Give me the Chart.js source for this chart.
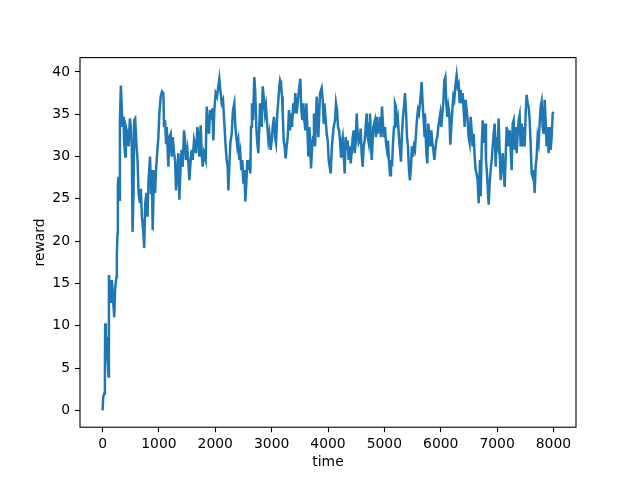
<!DOCTYPE html>
<html>
<head>
<meta charset="utf-8">
<script src="https://cdn.jsdelivr.net/npm/chart.js@4.4.0/dist/chart.umd.min.js"></script>
<style>
  body { margin: 0; background: #fff; }
  #wrap { width: 640px; height: 480px; }
</style>
</head>
<body>
<div id="wrap"><canvas id="chart" width="640" height="480"></canvas></div>
<script>
// values, one row per stretch of the x axis
const time = [
    0, 12, 30, 42, 47, 59, 71, 89, 107, 113, 130, 148, 166, 189, 207, 225, 248, 254, 266, 272, 284, 296, 308, 325, 343, 355, 373, 384, 402, 414, 443, 461, 485, 503, 520, 532, 550, 562, 579, 603, 621, 639, 662, 680, 698, 721, 739, 757, 780, 798, 816,
    843, 861, 873, 890, 902, 914, 932, 949, 973, 991, 1008, 1032, 1056, 1079, 1091, 1109, 1127, 1139, 1168, 1186, 1209, 1227, 1245, 1269, 1286, 1304, 1328, 1345, 1363, 1387, 1404, 1422, 1446, 1464, 1481, 1505, 1523, 1540, 1564, 1582, 1599, 1623, 1641, 1659, 1682, 1700, 1718, 1741, 1759, 1777, 1800,
    1830, 1848, 1865, 1889, 1907, 1924, 1948, 1966, 1983, 2007, 2031, 2054, 2072, 2090, 2114, 2137, 2161, 2184, 2202, 2220, 2232, 2249, 2267, 2291, 2314, 2338, 2356, 2374, 2391, 2409, 2427, 2444, 2462, 2480, 2498, 2515, 2533, 2551, 2569, 2586, 2604, 2622, 2634, 2651, 2669, 2693, 2710, 2728, 2746, 2764, 2781,
    2794, 2824, 2841, 2865, 2883, 2900, 2924, 2942, 2959, 2983, 3001, 3019, 3042, 3060, 3078, 3101, 3119, 3137, 3149, 3166, 3184, 3196, 3214, 3231, 3249, 3267, 3285, 3308, 3326, 3344, 3361, 3385, 3403, 3420, 3444, 3462, 3485, 3509, 3527, 3545, 3562, 3580, 3598, 3616, 3633, 3651, 3669, 3681, 3698, 3716, 3734, 3751,
    3770, 3800, 3829, 3859, 3888, 3906, 3924, 3935, 3959, 3977, 3995, 4012, 4030, 4048, 4066, 4083, 4101, 4125, 4142, 4160, 4178, 4196, 4213, 4231, 4243, 4261, 4278, 4296, 4314, 4331, 4349, 4367, 4385, 4402, 4420, 4438, 4456, 4473, 4491, 4509, 4526, 4544, 4562, 4580, 4597, 4615, 4633, 4651, 4668, 4686, 4704, 4722, 4739,
    4745, 4775, 4804, 4834, 4851, 4869, 4887, 4905, 4922, 4940, 4958, 4975, 4993, 5011, 5029, 5046, 5064, 5082, 5100, 5117, 5135, 5153, 5171, 5188, 5206, 5224, 5241, 5259, 5277, 5295, 5312, 5330, 5348, 5366, 5383, 5401, 5419, 5437, 5454, 5472, 5490, 5507, 5525, 5543, 5561, 5578, 5596, 5614, 5632, 5649, 5661, 5679, 5697, 5714,
    5721, 5745, 5762, 5780, 5798, 5816, 5833, 5851, 5869, 5887, 5904, 5922, 5940, 5957, 5975, 5993, 6011, 6028, 6046, 6064, 6082, 6099, 6117, 6135, 6152, 6170, 6188, 6206, 6223, 6241, 6259, 6282, 6300, 6318, 6336, 6353, 6371, 6389, 6407, 6424, 6442, 6460, 6477, 6495, 6513, 6531, 6548, 6566, 6584, 6602, 6619, 6637, 6655, 6673, 6690,
    6697, 6709, 6727, 6744, 6768, 6786, 6803, 6821, 6839, 6851, 6868, 6886, 6904, 6922, 6939, 6957, 6975, 6993, 7010, 7028, 7046, 7063, 7081, 7099, 7117, 7134, 7152, 7170, 7188, 7205, 7223, 7241, 7258, 7276, 7294, 7312, 7329, 7347, 7365, 7383, 7400, 7418, 7436, 7454, 7471, 7489, 7507, 7524, 7542, 7560, 7578, 7595, 7613, 7631, 7649, 7666, 7684, 7702, 7719, 7737, 7755, 7773, 7790, 7808, 7826, 7844, 7861, 7879, 7897, 7915, 7933, 7950, 7968, 7986, 8003
];
const reward = [
    0, 1.6, 2.0, 4.8, 10.3, 7.5, 8.7, 6.0, 4.0, 16.0, 14.6, 12.7, 15.4, 13.0, 11.0, 14.6, 15.8, 18.6, 20.9, 26.8, 27.6, 24.9, 34.3, 38.4, 35.5, 33.5, 34.7, 31.6, 30.0, 33.5, 32.7, 31.2, 34.5, 33.5, 30.8, 21.1, 25.7, 34.3, 34.5, 31.2, 29.6, 25.7, 24.5, 26.2, 22.9, 21.3, 19.2, 24.5, 25.7, 22.9, 27.2,
    30.0, 25.7, 28.4, 21.3, 24.9, 28.4, 25.7, 28.4, 30.8, 32.3, 35.1, 37.1, 37.7, 37.5, 33.5, 34.3, 31.6, 33.5, 28.8, 32.3, 32.7, 30.0, 32.3, 30.4, 29.6, 26.0, 28.4, 30.4, 24.9, 29.2, 30.8, 28.8, 33.1, 31.9, 29.6, 30.8, 29.2, 27.2, 29.6, 30.8, 29.6, 31.9, 31.2, 30.4, 33.5, 32.3, 30.0, 33.7, 30.4, 28.8, 30.4,
    29.6, 35.9, 33.9, 32.7, 35.5, 34.3, 35.7, 31.9, 35.5, 37.5, 37.1, 38.3, 39.2, 37.9, 36.3, 36.7, 33.9, 31.2, 29.6, 28.8, 26.0, 28.8, 31.6, 32.7, 35.5, 36.3, 33.5, 32.3, 31.2, 31.9, 29.6, 30.4, 28.4, 29.6, 26.8, 28.4, 24.7, 26.8, 29.6, 28.4, 29.6, 28.0, 33.5, 36.3, 34.3, 39.4, 37.5, 33.5, 31.6, 30.4, 33.5,
    36.3, 33.5, 38.3, 36.7, 35.1, 35.9, 33.5, 31.9, 32.7, 30.8, 31.9, 33.5, 34.7, 32.3, 31.6, 35.1, 36.7, 38.3, 39.0, 38.6, 37.1, 35.1, 31.9, 31.2, 29.8, 31.2, 32.3, 35.5, 33.1, 35.1, 33.5, 36.3, 35.1, 37.5, 35.1, 36.3, 37.9, 39.2, 35.5, 34.3, 36.3, 34.3, 33.1, 36.3, 33.5, 30.0, 33.5, 31.9, 28.6, 30.8, 32.3, 35.1,
    31.2, 37.1, 32.3, 37.5, 38.1, 36.7, 33.9, 36.3, 34.3, 32.7, 31.9, 29.6, 28.8, 28.0, 30.8, 32.3, 33.5, 34.3, 36.3, 35.5, 33.5, 33.1, 31.9, 30.0, 31.6, 32.3, 30.4, 28.0, 32.3, 30.8, 31.9, 29.6, 31.2, 29.2, 30.4, 32.3, 33.1, 30.4, 31.6, 35.1, 32.7, 31.6, 31.9, 33.3, 30.4, 28.8, 31.2, 31.9, 33.5, 35.1, 32.3, 31.6, 33.9,
    35.1, 29.6, 33.5, 34.3, 32.3, 34.7, 32.7, 33.9, 34.7, 32.3, 35.9, 33.9, 32.3, 33.5, 31.6, 30.8, 31.9, 29.6, 27.8, 29.6, 28.8, 31.6, 33.5, 36.3, 35.9, 33.5, 34.3, 32.3, 30.8, 29.4, 32.7, 34.7, 35.9, 37.5, 35.5, 32.3, 31.2, 28.4, 27.2, 28.8, 31.2, 30.0, 31.2, 30.8, 32.7, 34.3, 35.5, 35.1, 36.3, 37.5, 38.8, 36.3, 34.3, 32.3,
    35.1, 30.4, 29.2, 33.9, 32.3, 31.2, 33.1, 31.6, 30.8, 29.6, 30.8, 31.9, 32.3, 33.5, 34.3, 35.1, 33.5, 35.1, 36.3, 39.0, 39.4, 36.3, 34.7, 35.9, 35.1, 31.4, 33.5, 35.5, 37.1, 36.7, 38.3, 39.6, 38.3, 38.6, 36.3, 37.9, 36.3, 37.5, 35.5, 33.5, 36.7, 35.5, 34.3, 32.3, 31.6, 34.7, 33.1, 31.2, 32.7, 30.0, 28.4, 28.0, 27.2, 24.5, 28.0,
    29.6, 25.3, 31.2, 34.3, 31.6, 33.9, 29.6, 28.0, 25.7, 24.3, 26.8, 28.4, 29.6, 31.2, 32.7, 33.9, 28.8, 32.3, 31.6, 34.5, 30.4, 27.2, 28.8, 30.4, 28.4, 26.4, 30.0, 33.5, 32.7, 31.2, 33.1, 30.8, 28.4, 33.9, 34.3, 30.8, 33.5, 30.4, 32.7, 34.3, 34.9, 31.2, 33.9, 31.2, 33.5, 31.2, 35.1, 37.3, 36.3, 35.9, 34.3, 31.6, 28.0, 27.6, 28.4, 25.7, 28.8, 30.0, 32.3, 31.6, 33.9, 35.9, 36.5, 33.5, 32.7, 36.7, 34.3, 31.2, 33.5, 30.4, 33.5, 30.8, 32.3, 35.1, 35.3
];
const xTicks = [0, 1000, 2000, 3000, 4000, 5000, 6000, 7000, 8000];
const yTicks = [0, 5, 10, 15, 20, 25, 30, 35, 40];

if (time.length !== reward.length) console.warn('length mismatch', time.length, reward.length);

const tickFont = { family: "'DejaVu Sans', sans-serif", size: 13.9 };

// matplotlib style closed frame round the plot area
const framePlugin = {
    id: 'frame',
    afterDraw(chart) {
        const a = chart.chartArea;
        const ctx = chart.ctx;
        ctx.save();
        ctx.strokeStyle = '#000';
        ctx.lineWidth = 1.1;
        ctx.strokeRect(a.left, a.top, a.right - a.left, a.bottom - a.top);
        ctx.restore();
    }
};

new Chart(document.getElementById('chart'), {
    type: 'line',
    data: {
        datasets: [{
            data: time.map((t, i) => ({ x: t, y: reward[i] })),
            borderColor: '#1f77b4',
            borderWidth: 2.5,
            pointRadius: 0,
            tension: 0,
            fill: false
        }]
    },
    options: {
        responsive: false,
        animation: false,
        layout: { padding: { top: 57.6, right: 64, left: 0, bottom: 0 } },
        plugins: { legend: { display: false }, tooltip: { enabled: false } },
        scales: {
            x: {
                type: 'linear',
                min: -400,
                max: 8400,
                afterBuildTicks: s => { s.ticks = xTicks.map(v => ({ value: v })); },
                afterFit: s => { s.height = 52.8; },
                border: { display: false },
                grid: { drawOnChartArea: false, tickLength: 5, tickColor: '#000', tickWidth: 1.1 },
                ticks: { color: '#000', font: tickFont, padding: 4, maxRotation: 0, callback: v => String(v) },
                title: { display: true, text: 'time', color: '#000', font: tickFont, padding: { top: 0, bottom: 9.7 } }
            },
            y: {
                min: -1.99,
                max: 41.7,
                afterBuildTicks: s => { s.ticks = yTicks.map(v => ({ value: v })); },
                afterFit: s => { s.width = 80; },
                border: { display: false },
                grid: { drawOnChartArea: false, tickLength: 5, tickColor: '#000', tickWidth: 1.1 },
                ticks: { color: '#000', font: tickFont, padding: 5, callback: v => String(v) },
                title: { display: true, text: 'reward', color: '#000', font: tickFont, padding: { top: 31.7, bottom: 0 } }
            }
        }
    },
    plugins: [framePlugin]
});
</script>
</body>
</html>
